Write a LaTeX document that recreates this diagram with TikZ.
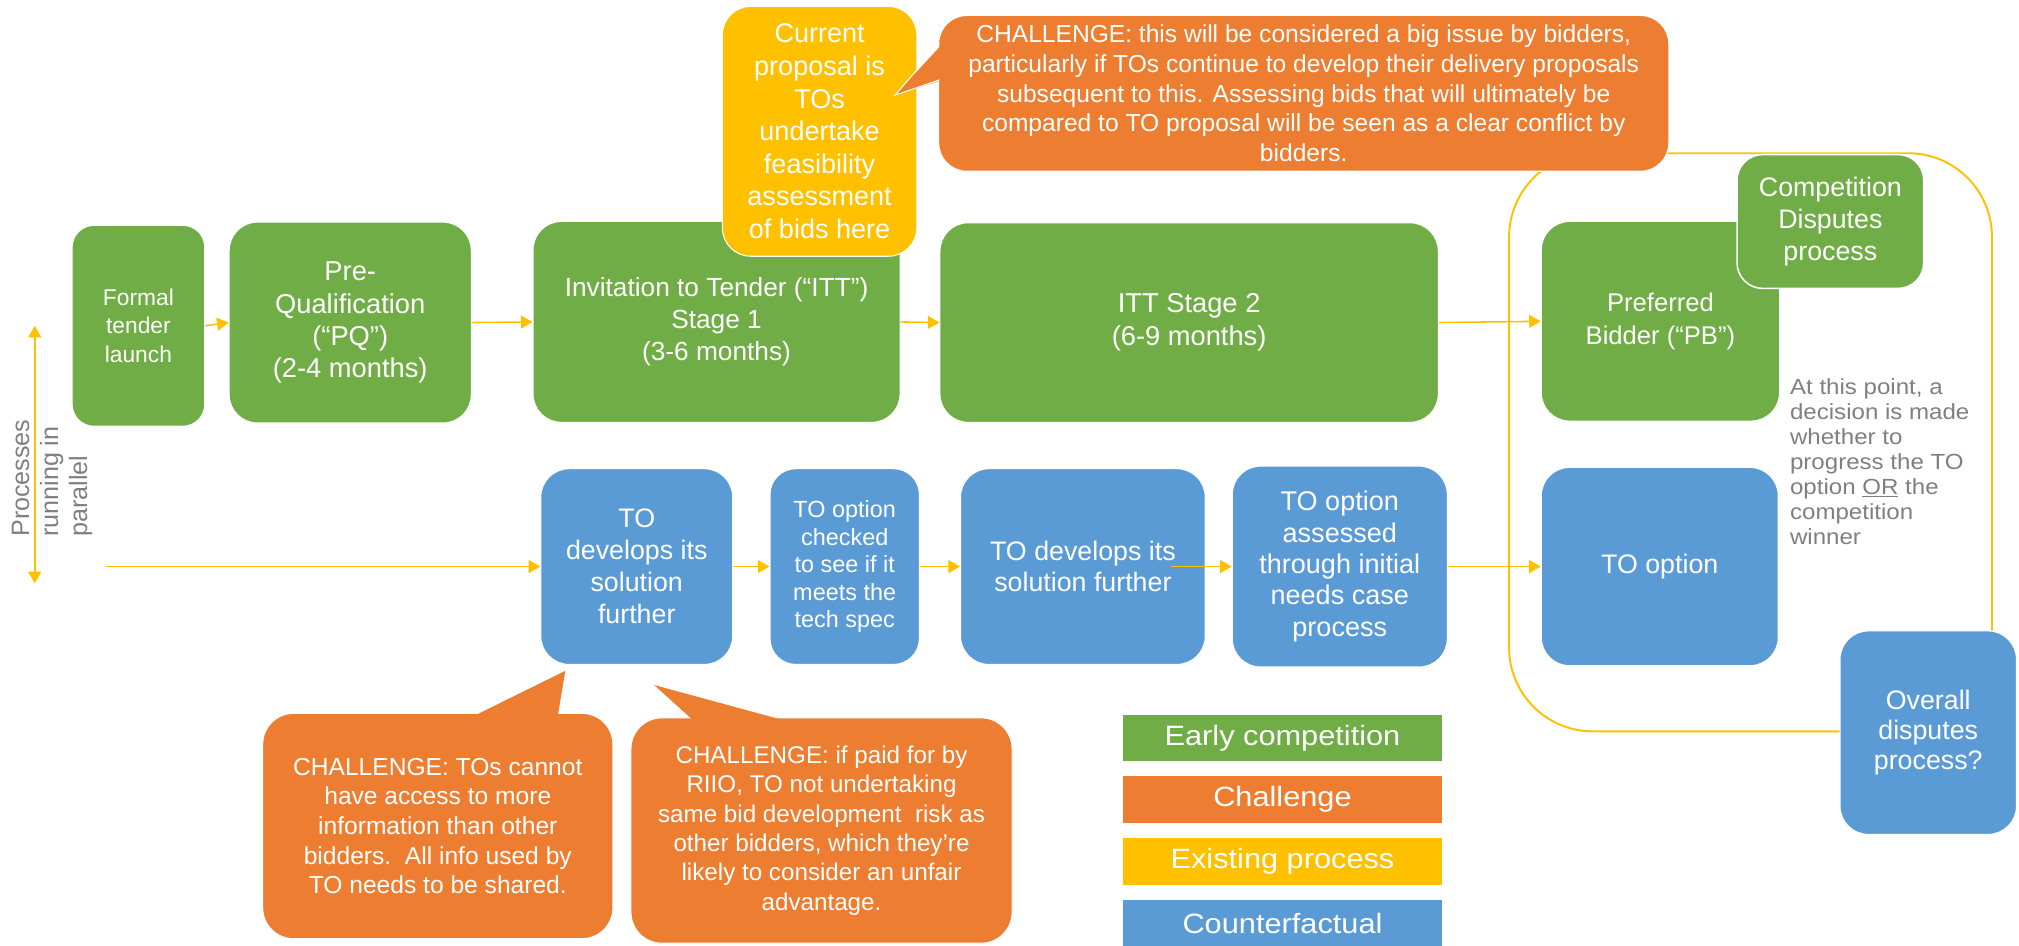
\documentclass[tikz,border=0pt]{standalone}
\usepackage{fontspec}
\setmainfont{Liberation Sans}
\newfontfamily\widefont[FakeStretch=1.1]{Liberation Sans}
\usetikzlibrary{arrows.meta}
\definecolor{earlygreen}{HTML}{70AD47}
\definecolor{challorange}{HTML}{ED7D31}
\definecolor{existyellow}{HTML}{FFC000}
\definecolor{counterblue}{HTML}{5B9BD5}
\definecolor{notegray}{HTML}{7F7F7F}

\begin{document}
\begin{tikzpicture}[x=1pt, y=-1pt,
	box/.style={rectangle, rounded corners=22pt, draw=white, line width=0.8pt, text=white, align=center, inner sep=0pt, font=\fontsize{20.8}{24.8}\selectfont},
	early/.style={box, fill=earlygreen},
	counter/.style={box, fill=counterblue},
	challenge/.style={box, fill=challorange, font=\fontsize{19.1}{23}\selectfont},
	existing/.style={box, fill=existyellow, font=\fontsize{21}{25.3}\selectfont},
	legendbox/.style={rectangle, minimum width=248pt, minimum height=36pt, inner sep=0pt, text=white, font=\widefont\fontsize{21.7}{24}\selectfont},
	flow/.style={draw=existyellow, line width=1.2pt, -{Triangle[length=9pt,width=10pt]}},
	flowboth/.style={draw=existyellow, line width=1.2pt, {Triangle[length=9pt,width=10pt]}-{Triangle[length=9pt,width=10pt]}},
	bracket/.style={draw=existyellow, line width=1.5pt, rounded corners=65pt}]

	\useasboundingbox (0,0) rectangle (1568,734);

	% decision bracket
	\draw[bracket] (1172,119) rectangle (1547,568);

	% early competition row
	\node[early, minimum width=103pt, minimum height=156pt, rounded corners=17pt, font=\fontsize{17.7}{22}\selectfont] (formal) at (107.5,253) {Formal\\tender\\launch};
	\node[early, minimum width=188pt, minimum height=156pt, font=\fontsize{21.2}{25}\selectfont] (pq) at (272,250.5) {Pre-\\Qualification\\(“PQ”)\\(2-4 months)};
	\node[early, minimum width=285pt, minimum height=156pt, font=\fontsize{20.4}{25}\selectfont] (ittone) at (556.5,250) {Invitation to Tender (“ITT”)\\Stage 1\\(3-6 months)};
	\node[existing, minimum width=151pt, minimum height=194pt] (current) at (636.5,102) {Current\\proposal is\\TOs\\undertake\\feasibility\\assessment\\of bids here};
	\node[early, minimum width=387pt, minimum height=155pt, font=\fontsize{21.2}{25.8}\selectfont] (itttwo) at (923.5,250.5) {ITT Stage 2\\(6-9 months)};
	\node[early, minimum width=185pt, minimum height=155pt, font=\fontsize{19.9}{26}\selectfont] (pb) at (1289.5,249.5) {Preferred\\Bidder (“PB”)};
	\node[early, minimum width=145pt, minimum height=104pt, rounded corners=20pt, line width=1.2pt, font=\fontsize{20.8}{25}\selectfont] (compdisp) at (1421.5,172) {Competition\\Disputes\\process};

	\node[challenge, minimum width=567pt, minimum height=121pt] (chalbids) at (1012.5,72.5) {CHALLENGE: this will be considered a big issue by bidders,\\particularly if TOs continue to develop their delivery proposals\\subsequent to this. Assessing bids that will ultimately be\\compared to TO proposal will be seen as a clear conflict by\\bidders.};
	\fill[challorange] (732,34) -- (695,74) -- (732,62) -- cycle;
	\draw[white, line width=0.8pt] (729.6,34) -- (695,74) -- (729.6,62);

	% counterfactual row
	\node[counter, minimum width=149pt, minimum height=152pt] (todev) at (494.5,440) {TO\\develops its\\solution\\further};
	\node[counter, minimum width=116pt, minimum height=152pt, rounded corners=20pt, font=\fontsize{18.2}{21.3}\selectfont] (tocheck) at (656,440) {TO option\\checked\\to see if it\\meets the\\tech spec};
	\node[counter, minimum width=190pt, minimum height=152pt, font=\fontsize{20.8}{24}\selectfont] (todevtwo) at (841,440) {TO develops its\\solution further};
	\node[counter, minimum width=167pt, minimum height=156pt, font=\fontsize{21}{24.3}\selectfont] (toassess) at (1040.5,440) {TO option\\assessed\\through initial\\needs case\\process};
	\node[counter, minimum width=184pt, minimum height=154pt] (tooption) at (1289,440) {TO option};
	\node[counter, minimum width=137pt, minimum height=158pt, font=\fontsize{20.8}{23.5}\selectfont] (overall) at (1497.5,569) {Overall\\disputes\\process?};

	% challenges on the TO route
	\node[challenge, minimum width=272pt, minimum height=175pt, rounded corners=24pt] (chalinfo) at (340,641.5) {CHALLENGE: TOs cannot\\have access to more\\information than other\\bidders.\ \ All info used by\\TO needs to be shared.};
	\fill[challorange] (366,557) -- (439,521) -- (433,557) -- cycle;
	\node[challenge, minimum width=296pt, minimum height=175pt, rounded corners=24pt, font=\fontsize{18.8}{22.8}\selectfont] (chalriio) at (638,645) {CHALLENGE: if paid for by\\RIIO, TO not undertaking\\same bid development\ \ risk as\\other bidders, which they’re\\likely to consider an unfair\\advantage.};
	\fill[challorange] (539,560) -- (508,532) -- (611,560) -- cycle;

	% legend
	\node[legendbox, fill=earlygreen] (legearly) at (996,573) {Early competition};
	\node[legendbox, fill=challorange] (legchal) at (996,621) {Challenge};
	\node[legendbox, fill=existyellow] (legexist) at (996,669) {Existing process};
	\node[legendbox, fill=counterblue] (legcounter) at (996,717) {Counterfactual};

	% notes
	\node[anchor=west, align=left, inner sep=0pt, text=notegray, font=\widefont\fontsize{17}{19.3}\selectfont] (decision) at (1390,358.5) {At this point, a\\decision is made\\whether to\\progress the TO\\option \underline{OR} the\\competition\\winner};
	\node[rotate=90, anchor=north west, align=left, inner sep=0pt, text=notegray, font=\fontsize{19.5}{22.5}\selectfont] (parallel) at (9,417) {Processes\\running in\\parallel};

	% connectors
	\coordinate (partop) at (27,253);
	\coordinate (parbot) at (27,453);
	\coordinate (lowstart) at (82,440);
	\draw[flowboth] (partop) -- (parbot);
	\draw[flow] (formal.east) -- (pq.west);
	\draw[flow] (pq.east) -- (ittone.west);
	\draw[flow] (ittone.east) -- (itttwo.west);
	\draw[flow] (itttwo.east) -- (pb.west);
	\draw[flow] (lowstart) -- (todev.west);
	\draw[flow] (todev.east) -- (tocheck.west);
	\draw[flow] (tocheck.east) -- (todevtwo.west);
	\draw[flow] ([xshift=-27pt]todevtwo.east) -- (toassess.west);
	\draw[flow] (toassess.east) -- (tooption.west);
\end{tikzpicture}
\end{document}
